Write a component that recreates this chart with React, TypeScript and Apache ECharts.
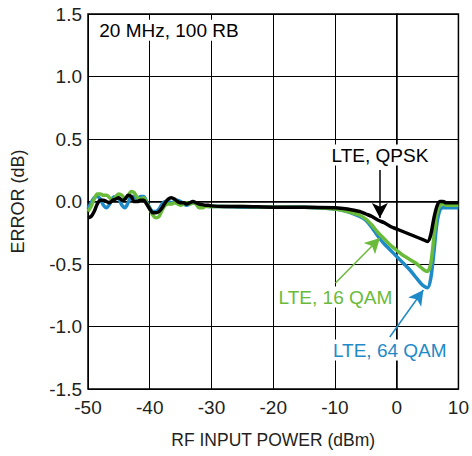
import { useEffect, useRef } from "react";
import * as echarts from "echarts";

// RF input power (dBm)
const xs = [
  -50, -49.5, -49, -48.5, -48, -47.5, -47, -46.5, -46, -45.5, -45, -44.5, -44, -43.5, -43, -42.5, -42, -41.5, -41,
  -40.5, -40, -39.5, -39, -38.5, -38, -37.5, -37, -36.5, -36, -35.5, -35, -34.5, -34, -33.5, -33, -32.5, -32, -31.5,
  -31, -30.5, -30,
  -28, -25, -20, -15, -10, -8, -6, -5, -4, -3, -2, -1, 0, 1, 2, 3, 4, 4.5, 5, 5.5, 6, 6.5, 7, 7.5, 8, 9, 10,
];

// ERROR (dB)
const qpsk = [
  -0.13, -0.12, -0.08, -0.02, 0.01, 0.01, 0.0, -0.01, 0.01, 0.02, 0.03, 0.01, 0.02, 0.05, 0.04, 0.0, 0.0, 0.01, 0.01,
  -0.02, -0.06, -0.09, -0.09, -0.08, -0.05, -0.01, 0.02, 0.03, 0.02, 0.0, -0.01, -0.01, -0.02, -0.01, 0.0, -0.01, -0.02,
  -0.025, -0.03, -0.03, -0.035,
  -0.04, -0.04, -0.045, -0.045, -0.05, -0.06, -0.08, -0.1, -0.12, -0.15, -0.17, -0.2, -0.22, -0.24, -0.26, -0.28, -0.3,
  -0.31, -0.32, -0.27, -0.14, -0.04, 0.0, 0.0, -0.01, -0.01, -0.01,
];

const qam16 = [
  -0.08, -0.04, 0.02, 0.06, 0.06, 0.05, 0.05, 0.03, 0.01, 0.04, 0.06, 0.05, 0.02, 0.05, 0.08, 0.07, 0.03, 0.02, 0.03,
  -0.01, -0.06, -0.11, -0.13, -0.12, -0.07, -0.03, -0.02, -0.02, -0.01, -0.02, -0.03, -0.02, -0.01, -0.02, -0.01, -0.02,
  -0.05, -0.05, -0.04, -0.04, -0.04,
  -0.04, -0.04, -0.045, -0.045, -0.06, -0.08, -0.11, -0.14, -0.19, -0.25, -0.3, -0.35, -0.39, -0.43, -0.46, -0.49, -0.53,
  -0.55, -0.56, -0.5, -0.3, -0.1, -0.03, -0.02, -0.03, -0.03, -0.03,
];

const qam64 = [
  -0.06, -0.01, 0.03, 0.04, 0.02, -0.03, -0.05, -0.02, 0.03, 0.04, 0.02, -0.03, -0.05, -0.01, 0.04, 0.04, 0.02, 0.04,
  0.04, 0.0, -0.05, -0.08, -0.08, -0.06, -0.02, 0.0, 0.0, -0.01, 0.0, 0.01, 0.0, -0.02, -0.03, -0.02, -0.01, -0.02, -0.03,
  -0.035, -0.035, -0.04, -0.04,
  -0.04, -0.045, -0.045, -0.045, -0.06, -0.08, -0.12, -0.15, -0.21, -0.28, -0.34, -0.39, -0.44, -0.49, -0.54, -0.6,
  -0.66, -0.68, -0.69, -0.62, -0.42, -0.18, -0.07, -0.05, -0.05, -0.05, -0.05,
];

const seriesNames = ["LTE, 64 QAM", "LTE, 16 QAM", "LTE, QPSK"];
const seriesColors = ["#1f8ac8", "#6abb3a", "#000000"];

// annotation labels (data coordinates) and arrows
const noteTexts = ["20 MHz, 100 RB", "LTE, QPSK", "LTE, 16 QAM", "LTE, 64 QAM"];
const noteAt: [number, number][] = [
  [-48.5, 1.37],
  [-2.72, 0.372],
  [-9.92, -0.764],
  [-1.12, -1.188],
];
const noteColors = ["#000000", "#000000", "#6abb3a", "#1f8ac8"];
const noteAlign = ["left", "center", "center", "center"];

// arrows per series: [from, to]
const arrows: [number, number][][] = [
  [[-1.12, -1.084], [4.32, -0.708]],
  [[-9.92, -0.652], [-2.72, -0.292]],
  [[-2.72, 0.252], [-2.72, -0.132]],
];

const FONT = "Arial, 'Liberation Sans', Helvetica, sans-serif";

export default function App() {
  const ref = useRef<HTMLDivElement>(null);
  useEffect(() => {
    document.body.style.margin = "0";
    const chart = echarts.init(ref.current!, null, { renderer: "svg" });
    const datasets = [qam64, qam16, qpsk];
    chart.setOption({
      animation: false,
      backgroundColor: "#ffffff",
      textStyle: { fontFamily: FONT },
      grid: { left: 88, right: 9, top: 14, bottom: 67, show: true, borderColor: "#000", borderWidth: 1.5 },
      xAxis: {
        type: "value",
        min: -50,
        max: 10,
        interval: 10,
        name: "RF INPUT POWER (dBm)",
        nameLocation: "middle",
        nameGap: 42,
        nameTextStyle: { fontSize: 17.5, color: "#231f20", fontFamily: FONT },
        axisLine: { show: true, lineStyle: { color: "#000", width: 1.5 } },
        axisTick: { show: false },
        axisLabel: { fontSize: 19, color: "#231f20", margin: 9, fontFamily: FONT },
        splitLine: { show: true, lineStyle: { color: "#000", width: 1 } },
      },
      yAxis: {
        type: "value",
        min: -1.5,
        max: 1.5,
        interval: 0.5,
        name: "ERROR (dB)",
        nameLocation: "middle",
        nameGap: 61,
        nameTextStyle: { fontSize: 18, color: "#231f20", fontFamily: FONT },
        axisLine: { show: true, lineStyle: { color: "#000", width: 1.5 } },
        axisTick: { show: false },
        axisLabel: {
          fontSize: 19,
          color: "#231f20",
          margin: 6,
          fontFamily: FONT,
          formatter: (v: number) => v.toFixed(1),
        },
        splitLine: { show: true, lineStyle: { color: "#000", width: 1 } },
      },
      series: datasets.map((ys, i) => ({
        name: seriesNames[i],
        type: "line",
        smooth: 0.3,
        showSymbol: false,
        symbol: "none",
        data: xs.map((x, k) => [x, ys[k]]),
        lineStyle: { color: seriesColors[i], width: 3.5 },
        z: 3 + i,
        markLine: {
          silent: true,
          symbol: ["none", "arrow"],
          symbolSize: [12, 15],
          label: { show: false },
          lineStyle: { color: seriesColors[i], width: 1.5, type: "solid" },
          data: [[{ coord: arrows[i][0] }, { coord: arrows[i][1] }]],
        },
      })),
    });
    const graphics = noteTexts.map((t, i) => {
      const p = chart.convertToPixel({ gridIndex: 0 }, noteAt[i]) as number[];
      return {
        type: "text",
        x: p[0],
        y: p[1],
        z: 100,
        style: {
          text: t,
          fill: noteColors[i],
          font: `19px ${FONT}`,
          align: noteAlign[i],
          verticalAlign: "middle",
          backgroundColor: "#ffffff",
          padding: [1, 2, 1, 2],
        },
      };
    });
    chart.setOption({ graphic: graphics });
    return () => chart.dispose();
  }, []);
  return <div ref={ref} style={{ width: 472, height: 456 }} />;
}
